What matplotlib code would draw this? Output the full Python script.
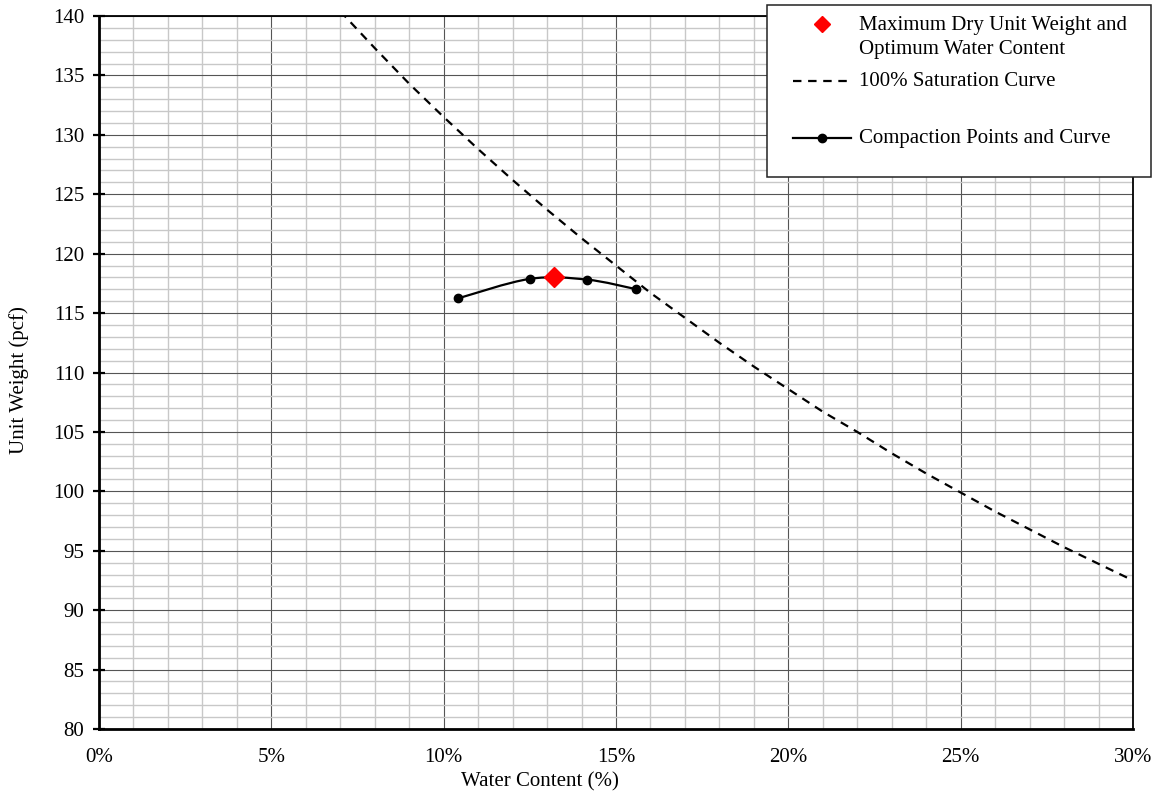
import matplotlib
matplotlib.use("Agg")
import matplotlib.pyplot as plt
import numpy as np
from matplotlib.path import Path
from matplotlib.patches import PathPatch, Rectangle
from matplotlib.lines import Line2D
from matplotlib.ticker import MultipleLocator, FuncFormatter

plt.rcParams['font.family'] = ['Liberation Serif', 'DejaVu Serif']

# ---- data ----
sat_w = [7, 8, 9, 10, 11, 12, 13, 14, 15, 16, 17, 18, 19, 20, 21, 22, 23, 24, 25, 26, 27, 28, 29, 30]
sat_gamma = [140.4, 137.3, 134.3, 131.5, 128.8, 126.2, 123.7, 121.3, 119.0, 116.7, 114.6, 112.5,
             110.5, 108.6, 106.7, 105.0, 103.2, 101.5, 99.9, 98.3, 96.8, 95.3, 93.9, 92.5]
comp_w = [10.43, 12.50, 14.15, 15.57]
comp_gamma = [116.25, 117.88, 117.82, 117.02]
max_w = [13.2]
max_gamma = [118.03]
labels = ["Maximum Dry Unit Weight and\nOptimum Water Content",
          "100% Saturation Curve",
          "Compaction Points and Curve"]

FS = 15
DASH = (0, (3.8, 3.0))
W, H = 1160, 797
fig = plt.figure(figsize=(W / 100, H / 100), dpi=100)
L, R, T, B = 99, 1133, 16, 729
ax = fig.add_axes([L / W, 1 - B / H, (R - L) / W, (B - T) / H])
ax.set_xlim(0, 30)
ax.set_ylim(80, 140)

ax.xaxis.set_major_locator(MultipleLocator(5))
ax.xaxis.set_minor_locator(MultipleLocator(1))
ax.yaxis.set_major_locator(MultipleLocator(5))
ax.yaxis.set_minor_locator(MultipleLocator(1))
ax.xaxis.set_major_formatter(FuncFormatter(lambda v, p: f"{v:.0f}%"))
ax.grid(which='minor', color='#c8c8c8', linewidth=1.0, zorder=0)
ax.grid(which='major', color='#555555', linewidth=0.8, zorder=0.5)
ax.set_axisbelow(True)
ax.tick_params(axis='x', which='both', length=0, pad=14, labelsize=FS)
ax.tick_params(axis='y', which='major', direction='inout', length=9, width=1.6, pad=6, labelsize=FS)
ax.tick_params(axis='y', which='minor', length=0)
for s in ['left', 'bottom']:
    ax.spines[s].set_linewidth(2.0)
for s in ['top', 'right']:
    ax.spines[s].set_linewidth(1.3)

ax.set_xlabel("Water Content (%)", fontsize=FS)
ax.set_ylabel("Unit Weight (pcf)", fontsize=FS)
ax.xaxis.set_label_coords((540 - L) / (R - L), -(782 - B) / (B - T), transform=ax.transAxes)
ax.xaxis.label.set_va('center')
ax.yaxis.set_label_coords(-(L - 19) / (R - L), 1 - (380 - T) / (B - T), transform=ax.transAxes)
ax.yaxis.label.set_va('center')

# saturation curve
ax.plot(sat_w, sat_gamma, color='black', linestyle=DASH, linewidth=1.6, zorder=3)

# smoothed compaction curve (Catmull-Rom style bezier, like a spreadsheet smoothed line)
pts = np.column_stack([comp_w, comp_gamma])
n = len(pts)
verts = [tuple(pts[0])]
codes = [Path.MOVETO]
for i in range(n - 1):
    p0 = pts[i - 1] if i > 0 else pts[i]
    p1 = pts[i]
    p2 = pts[i + 1]
    p3 = pts[i + 2] if i + 2 < n else pts[i + 1]
    c1 = p1 + (p2 - p0) / 6
    c2 = p2 - (p3 - p1) / 6
    verts += [tuple(c1), tuple(c2), tuple(p2)]
    codes += [Path.CURVE4] * 3
ax.add_patch(PathPatch(Path(verts, codes), facecolor='none', edgecolor='black', linewidth=1.6, zorder=4))
ax.plot(comp_w, comp_gamma, linestyle='none', marker='o', markersize=6, color='black', zorder=5)
ax.plot(max_w, max_gamma, linestyle='none', marker='D', markersize=10, color='#ff0000', zorder=6)

# legend box (drawn in figure pixel space)
def fx(x):
    return x / W
def fy(y):
    return 1 - y / H

fig.patches.append(Rectangle((fx(767), fy(177)), (1151 - 767) / W, (177 - 5) / H,
                             transform=fig.transFigure, facecolor='white', edgecolor='#222222',
                             linewidth=1.1, zorder=10))
fig.add_artist(Line2D([fx(822)], [fy(24)], marker='D', markersize=8.5, color='#ff0000',
                      linestyle='none', zorder=11))
fig.add_artist(Line2D([fx(793), fx(851)], [fy(81), fy(81)], color='black',
                      linestyle=DASH, linewidth=1.6, zorder=11))
fig.add_artist(Line2D([fx(793), fx(851)], [fy(138), fy(138)], color='black', linewidth=1.6,
                      zorder=11))
fig.add_artist(Line2D([fx(822)], [fy(138)], marker='o', markersize=6, color='black',
                      linestyle='none', zorder=12))
fig.text(fx(859), fy(37.5), labels[0], fontsize=FS, va='center', ha='left', zorder=12,
         linespacing=1.3)
fig.text(fx(859), fy(81.5), labels[1], fontsize=FS, va='center', ha='left', zorder=12)
fig.text(fx(859), fy(138.5), labels[2], fontsize=FS, va='center', ha='left', zorder=12)

fig.savefig("out.png", dpi=100)
